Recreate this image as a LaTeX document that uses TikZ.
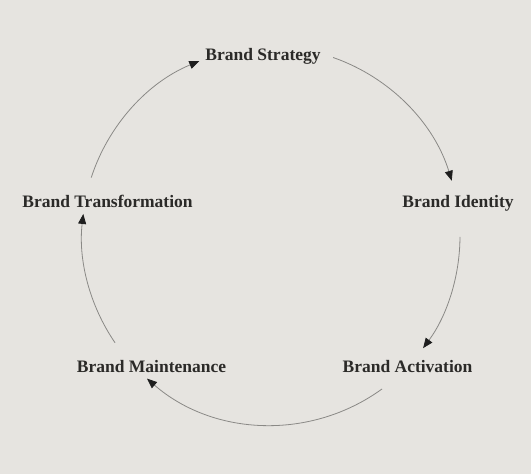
\documentclass[tikz,border=0pt]{standalone}
\usepackage{fontspec}
\setmainfont{Liberation Serif}
\usetikzlibrary{arrows.meta,calc}
\definecolor{bgc}{HTML}{E6E4E0}
\definecolor{txtc}{HTML}{2B2A28}
\definecolor{arcc}{HTML}{8A8986}
\definecolor{tipc}{HTML}{1E1E1E}
\begin{document}
\begin{tikzpicture}[x=1pt,y=1pt,
  lbl/.style={anchor=base,inner sep=0pt,text=txtc,font=\fontsize{17.5}{20}\selectfont\bfseries},
  cyc/.style={draw=arcc,line width=0.8pt,
    -{Triangle[length=10pt,width=8pt,fill=tipc,color=tipc]}}]
\fill[bgc] (0,0) rectangle (531,474);
\useasboundingbox (0,0) rectangle (531,474);
\coordinate (c) at (271,238);
\node[lbl] (strat) at (263,413) {Brand Strategy};
\node[lbl] (ident) at (458,266) {Brand Identity};
\node[lbl] (activ) at (407.5,101) {Brand Activation};
\node[lbl] (maint) at (151.5,101) {Brand Maintenance};
\node[lbl] (trans) at (107.5,266) {Brand Transformation};
\coordinate (s1) at ($(c)+(70.8:189)$);
\coordinate (s2) at ($(c)+(-0.3:189)$);
\coordinate (s3) at ($(c)+(-54:189)$);
\coordinate (s4) at ($(c)+(-145.6:189)$);
\coordinate (s5) at ($(c)+(162:189)$);
\draw[cyc] (s1) arc[start angle=70.8,end angle=17,radius=189];
\draw[cyc] (s2) arc[start angle=-0.3,end angle=-36.4,radius=189];
\draw[cyc] (s3) arc[start angle=-54,end angle=-131,radius=189];
\draw[cyc] (s4) arc[start angle=-145.6,end angle=-186.7,radius=189];
\draw[cyc] (s5) arc[start angle=162,end angle=112.3,radius=189];
\end{tikzpicture}
\end{document}
